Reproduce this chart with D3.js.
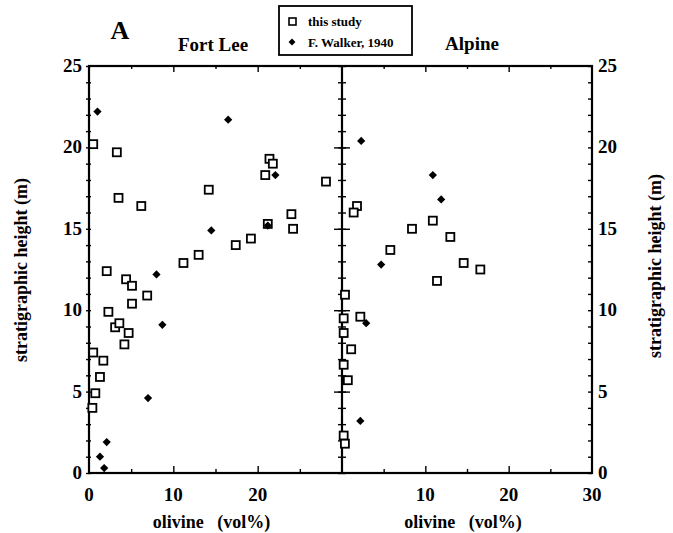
<!DOCTYPE html>
<html>
<head>
<meta charset="utf-8">
<script src="https://cdnjs.cloudflare.com/ajax/libs/d3/7.8.5/d3.min.js"></script>
<style>
  body { margin: 0; background: #fff; }
  text { font-family: "Liberation Serif", "Times New Roman", serif; font-weight: bold; fill: #000; }
</style>
</head>
<body>
<div id="container"></div>
<script>
// Fort Lee, this study
var fortLeeStudyX = [0.5, 3.3, 3.5, 6.2, 14.2, 21.4, 21.8, 20.9, 28.1, 24.0, 24.2, 21.2, 19.2, 17.4, 13.0, 11.2, 2.1, 4.4, 5.1, 6.9, 5.1, 2.3, 3.1, 3.6, 4.7, 4.2, 0.5, 1.7, 1.3, 0.75, 0.4];
var fortLeeStudyY = [20.2, 19.7, 16.9, 16.4, 17.4, 19.3, 19.0, 18.3, 17.9, 15.9, 15.0, 15.3, 14.4, 14.0, 13.4, 12.9, 12.4, 11.9, 11.5, 10.9, 10.4, 9.9, 8.95, 9.2, 8.6, 7.9, 7.4, 6.9, 5.9, 4.9, 4.0];
// Fort Lee, F. Walker 1940
var fortLeeWalkerX = [1.0, 16.5, 22.1, 21.2, 14.5, 8.0, 8.7, 7.0, 2.1, 1.3, 1.8];
var fortLeeWalkerY = [22.2, 21.7, 18.3, 15.2, 14.9, 12.2, 9.1, 4.6, 1.9, 1.0, 0.3];
// Alpine, this study
var alpineStudyX = [1.8, 1.4, 10.9, 8.4, 13.0, 5.8, 14.6, 16.6, 11.4, 0.36, 0.2, 2.2, 0.2, 1.1, 0.2, 0.7, 0.2, 0.35];
var alpineStudyY = [16.4, 16.0, 15.5, 15.0, 14.5, 13.7, 12.9, 12.5, 11.8, 10.95, 9.5, 9.6, 8.6, 7.6, 6.65, 5.7, 2.3, 1.8];
// Alpine, F. Walker 1940
var alpineWalkerX = [2.3, 10.9, 11.9, 4.7, 2.9, 2.2];
var alpineWalkerY = [20.4, 18.3, 16.8, 12.8, 9.2, 3.2];

var yTicks = [0, 5, 10, 15, 20, 25];
var leftXTicks = [0, 10, 20];
var rightXTicks = [10, 20, 30];

var width = 673;
var height = 533;
var plotTop = 66, plotBottom = 473;
var leftX0 = 89, midX = 342, rightX1 = 592;

var svg = d3.select("#container").append("svg")
            .attr("width", width)
            .attr("height", height);

var yScale = d3.scaleLinear().domain([0, 25]).range([plotBottom, plotTop]);
var xLeft = d3.scaleLinear().domain([0, 30]).range([leftX0, midX]);
var xRight = d3.scaleLinear().domain([0, 30]).range([midX, rightX1]);

// axes
svg.append("g").attr("transform", "translate(" + (leftX0 + 2) + ",0)")
   .call(d3.axisLeft(yScale).tickValues(d3.range(0, 26, 1)).tickSize(5).tickFormat(""));
svg.append("g").attr("transform", "translate(" + (midX - 4) + ",0)")
   .call(d3.axisRight(yScale).tickValues(d3.range(0, 26, 1)).tickSize(8).tickFormat(""));
svg.append("g").attr("transform", "translate(" + (midX - 8) + ",0)")
   .call(d3.axisRight(yScale).tickValues([5, 10, 15, 20]).tickSize(16).tickFormat(""));
svg.append("g").attr("transform", "translate(" + rightX1 + ",0)")
   .call(d3.axisRight(yScale).tickValues(d3.range(0, 26, 1)).tickSize(-4).tickFormat(""));

[xLeft, xRight].forEach(function(sc) {
  svg.append("g").attr("transform", "translate(0," + plotBottom + ")")
     .call(d3.axisBottom(sc).tickValues([5, 15, 25]).tickSize(-4).tickFormat(""));
  svg.append("g").attr("transform", "translate(0," + plotBottom + ")")
     .call(d3.axisBottom(sc).tickValues([10, 20]).tickSize(-7).tickFormat(""));
  svg.append("g").attr("transform", "translate(0," + plotTop + ")")
     .call(d3.axisTop(sc).tickValues([5, 15, 25]).tickSize(-3).tickFormat(""));
  svg.append("g").attr("transform", "translate(0," + plotTop + ")")
     .call(d3.axisTop(sc).tickValues([10, 20]).tickSize(-6).tickFormat(""));
});

svg.selectAll(".domain").remove();
svg.selectAll(".tick line").attr("stroke", "#000").attr("stroke-width", 1.4);

// frame
svg.append("rect").attr("x", leftX0).attr("y", plotTop)
   .attr("width", rightX1 - leftX0).attr("height", plotBottom - plotTop)
   .attr("fill", "none").attr("stroke", "#000").attr("stroke-width", 2.2);
svg.append("line").attr("x1", midX).attr("x2", midX).attr("y1", plotTop).attr("y2", plotBottom)
   .attr("stroke", "#000").attr("stroke-width", 2.2);

// tick labels
svg.selectAll(".ylabL").data(yTicks).enter().append("text")
   .attr("x", leftX0 - 7).attr("y", function(d) { return yScale(d) + 6; })
   .attr("text-anchor", "end").style("font-size", "19px").text(function(d) { return d; });
svg.selectAll(".ylabR").data(yTicks).enter().append("text")
   .attr("x", rightX1 + 6).attr("y", function(d) { return yScale(d) + 6; })
   .attr("text-anchor", "start").style("font-size", "19px").text(function(d) { return d; });
svg.selectAll(".xlabL").data(leftXTicks).enter().append("text")
   .attr("x", function(d) { return xLeft(d); }).attr("y", plotBottom + 28)
   .attr("text-anchor", "middle").style("font-size", "19px").text(function(d) { return d; });
svg.selectAll(".xlabR").data(rightXTicks).enter().append("text")
   .attr("x", function(d) { return xRight(d); }).attr("y", plotBottom + 28)
   .attr("text-anchor", "middle").style("font-size", "19px").text(function(d) { return d; });

// axis titles
[xLeft, xRight].forEach(function(sc) {
  svg.append("text").attr("x", sc(15) - 4).attr("y", 528)
     .attr("text-anchor", "middle").style("font-size", "18px")
     .attr("xml:space", "preserve").text("olivine   (vol%)");
});
svg.append("text").attr("transform", "translate(27,270) rotate(-90)")
   .attr("text-anchor", "middle").style("font-size", "18px").text("stratigraphic height (m)");
svg.append("text").attr("transform", "translate(661,266) rotate(-90)")
   .attr("text-anchor", "middle").style("font-size", "18px").text("stratigraphic height (m)");

// panel titles
svg.append("text").attr("x", 213).attr("y", 51).attr("text-anchor", "middle")
   .style("font-size", "19px").text("Fort Lee");
svg.append("text").attr("x", 472).attr("y", 50).attr("text-anchor", "middle")
   .style("font-size", "19px").text("Alpine");
svg.append("text").attr("x", 120).attr("y", 39).attr("text-anchor", "middle")
   .style("font-size", "26px").text("A");

// markers
function squares(xs, ys, sc) {
  svg.append("g").selectAll("rect").data(xs).enter().append("rect")
     .attr("x", function(d) { return sc(d) - 4; })
     .attr("y", function(d, i) { return yScale(ys[i]) - 4; })
     .attr("width", 8).attr("height", 8)
     .attr("fill", "#fff").attr("stroke", "#000").attr("stroke-width", 1.8);
}
function diamonds(xs, ys, sc) {
  svg.append("g").selectAll("path").data(xs).enter().append("path")
     .attr("d", d3.symbol().type(d3.symbolSquare).size(34))
     .attr("transform", function(d, i) { return "translate(" + sc(d) + "," + yScale(ys[i]) + ") rotate(45)"; })
     .attr("fill", "#000");
}
squares(fortLeeStudyX, fortLeeStudyY, xLeft);
diamonds(fortLeeWalkerX, fortLeeWalkerY, xLeft);
squares(alpineStudyX, alpineStudyY, xRight);
diamonds(alpineWalkerX, alpineWalkerY, xRight);

// legend
var lg = svg.append("g");
lg.append("rect").attr("x", 279).attr("y", 6).attr("width", 133).attr("height", 49)
  .attr("fill", "#fff").attr("stroke", "#000").attr("stroke-width", 1.8);
lg.append("rect").attr("x", 289).attr("y", 18).attr("width", 7).attr("height", 7)
  .attr("fill", "#fff").attr("stroke", "#000").attr("stroke-width", 1.6);
lg.append("path").attr("d", d3.symbol().type(d3.symbolSquare).size(24))
  .attr("transform", "translate(292,42) rotate(45)").attr("fill", "#000");
lg.append("text").attr("x", 308).attr("y", 26).style("font-size", "13px").text("this study");
lg.append("text").attr("x", 308).attr("y", 47).style("font-size", "13px").text("F. Walker, 1940");

svg.selectAll("text").attr("fill", "#000");
</script>
</body>
</html>
